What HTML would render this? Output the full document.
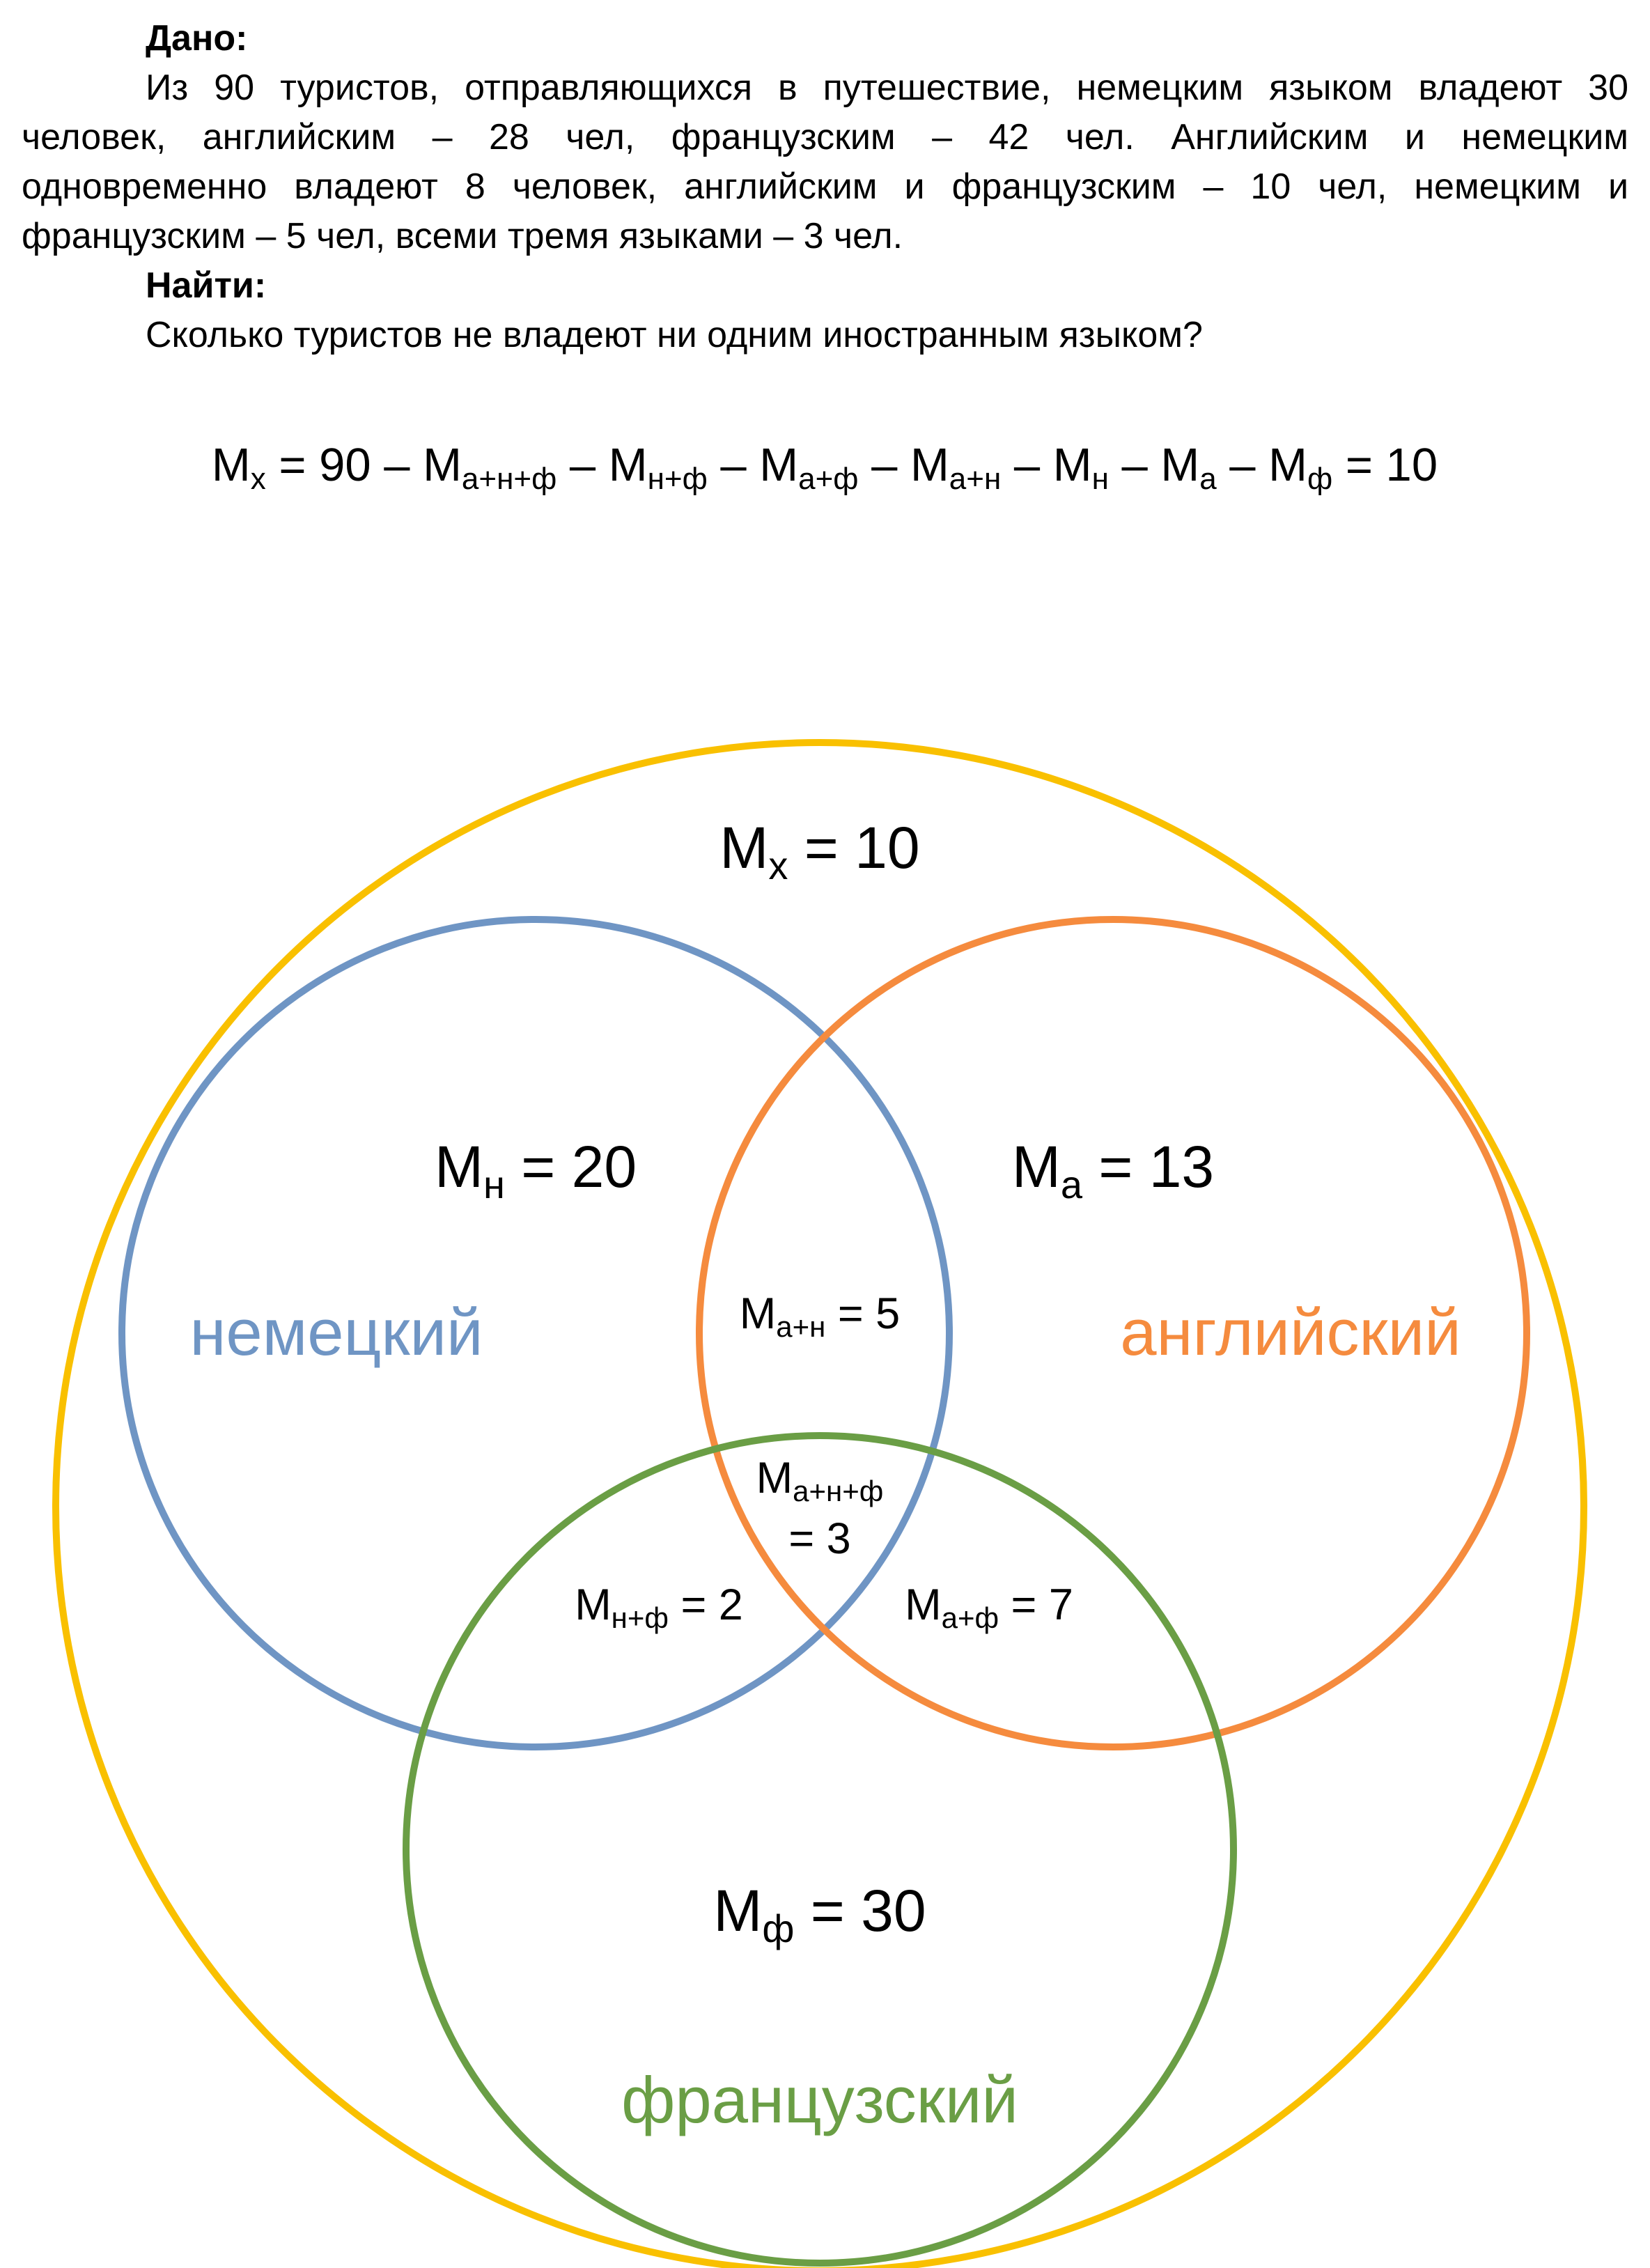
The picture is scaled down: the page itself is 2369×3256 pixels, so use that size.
<!DOCTYPE html>
<html><head><meta charset="utf-8"><style>
html,body{margin:0;padding:0;background:#fff;}
body{width:2369px;height:3256px;position:relative;overflow:hidden;font-family:"Liberation Sans","DejaVu Sans",sans-serif;color:#000;}
.txt{position:absolute;left:31px;top:20px;width:2307px;font-size:52px;line-height:71px;}
.txt p{margin:0;}
.j{text-align:justify;text-align-last:justify;}
.ind{padding-left:178px;}
svg{position:absolute;left:0;top:0;}
</style></head><body>
<div class="txt">
<p class="ind"><b>Дано:</b></p>
<p class="ind j">Из 90 туристов, отправляющихся в путешествие, немецким языком владеют 30</p>
<p class="j">человек, английским – 28 чел, французским – 42 чел. Английским и немецким</p>
<p class="j">одновременно владеют 8 человек, английским и французским – 10 чел, немецким и</p>
<p>французским – 5 чел, всеми тремя языками – 3 чел.</p>
<p class="ind"><b>Найти:</b></p>
<p class="ind">Сколько туристов не владеют ни одним иностранным языком?</p>
</div>
<svg width="2369" height="3256" font-family="Liberation Sans, DejaVu Sans, sans-serif">
<text x="1184" y="690" font-size="67" text-anchor="middle">M<tspan font-size="44" dy="12">x</tspan><tspan dy="-12"> = 90 – M</tspan><tspan font-size="44" dy="12">а+н+ф</tspan><tspan dy="-12"> – M</tspan><tspan font-size="44" dy="12">н+ф</tspan><tspan dy="-12"> – M</tspan><tspan font-size="44" dy="12">а+ф</tspan><tspan dy="-12"> – M</tspan><tspan font-size="44" dy="12">а+н</tspan><tspan dy="-12"> – M</tspan><tspan font-size="44" dy="12">н</tspan><tspan dy="-12"> – M</tspan><tspan font-size="44" dy="12">а</tspan><tspan dy="-12"> – M</tspan><tspan font-size="44" dy="12">ф</tspan><tspan dy="-12"> = 10</tspan></text>
<g fill="none" stroke-width="10">
<circle cx="1177" cy="2163" r="1097" stroke="#F9C000"/>
<circle cx="769" cy="1914" r="594" stroke="#6F95C4"/>
<circle cx="1598" cy="1914" r="594" stroke="#F58B3E"/>
<circle cx="1177" cy="2655" r="594" stroke="#6A9E45"/>
</g>
<g text-anchor="middle">
<text x="1177" y="1246" font-size="84">M<tspan font-size="56" dy="16">x</tspan><tspan dy="-16"> = 10</tspan></text>
<text x="769" y="1704" font-size="84">M<tspan font-size="56" dy="16">н</tspan><tspan dy="-16"> = 20</tspan></text>
<text x="1598" y="1704" font-size="84">M<tspan font-size="56" dy="16">а</tspan><tspan dy="-16"> = 13</tspan></text>
<text x="1177" y="2772" font-size="84">M<tspan font-size="56" dy="16">ф</tspan><tspan dy="-16"> = 30</tspan></text>
<text x="483" y="1945" font-size="94" fill="#6F95C4">немецкий</text>
<text x="1853" y="1945" font-size="94" fill="#F58B3E">английский</text>
<text x="1177" y="3047" font-size="94" fill="#6A9E45">французский</text>
<text x="1177" y="1907" font-size="63">M<tspan font-size="42" dy="12">а+н</tspan><tspan dy="-12"> = 5</tspan></text>
<text x="1177" y="2143" font-size="63">M<tspan font-size="42" dy="12">а+н+ф</tspan></text>
<text x="1177" y="2230" font-size="63">= 3</text>
<text x="946" y="2325" font-size="63">M<tspan font-size="42" dy="12">н+ф</tspan><tspan dy="-12"> = 2</tspan></text>
<text x="1420" y="2325" font-size="63">M<tspan font-size="42" dy="12">а+ф</tspan><tspan dy="-12"> = 7</tspan></text>
</g>
</svg>
</body></html>
